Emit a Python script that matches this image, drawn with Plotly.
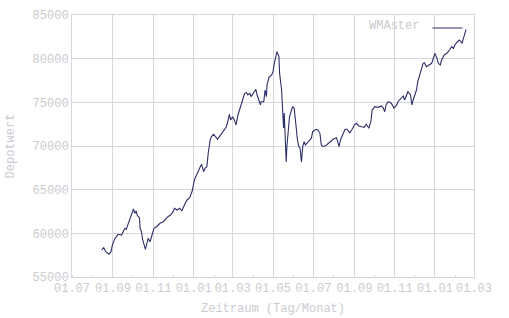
import plotly.graph_objects as go

dates = [
    "2005-08-15", "2005-08-18", "2005-08-21", "2005-08-24", "2005-08-26", "2005-08-29", "2005-08-31",
    "2005-09-04", "2005-09-09", "2005-09-14", "2005-09-19", "2005-09-21", "2005-09-25", "2005-09-29",
    "2005-10-02", "2005-10-04", "2005-10-06", "2005-10-08", "2005-10-11", "2005-10-12", "2005-10-14",
    "2005-10-16", "2005-10-18", "2005-10-20", "2005-10-23", "2005-10-24", "2005-10-27", "2005-10-30",
    "2005-11-02", "2005-11-06", "2005-11-08", "2005-11-11", "2005-11-16", "2005-11-18", "2005-11-23",
    "2005-11-27", "2005-12-01", "2005-12-03", "2005-12-07", "2005-12-11", "2005-12-14", "2005-12-18",
    "2005-12-22", "2005-12-26", "2005-12-30",
    "2006-01-02", "2006-01-05", "2006-01-07", "2006-01-11", "2006-01-13", "2006-01-16", "2006-01-18",
    "2006-01-21", "2006-01-23", "2006-01-26", "2006-01-28", "2006-01-31", "2006-02-04", "2006-02-06",
    "2006-02-09", "2006-02-11", "2006-02-15", "2006-02-19", "2006-02-21", "2006-02-24", "2006-02-26",
    "2006-03-01", "2006-03-04", "2006-03-06", "2006-03-09", "2006-03-11", "2006-03-14",
    "2006-03-16", "2006-03-19", "2006-03-22", "2006-03-24", "2006-03-27", "2006-03-29", "2006-04-01",
    "2006-04-03", "2006-04-05", "2006-04-07", "2006-04-09", "2006-04-12", "2006-04-13", "2006-04-17",
    "2006-04-19", "2006-04-21", "2006-04-22", "2006-04-25", "2006-04-29", "2006-05-01", "2006-05-03",
    "2006-05-05", "2006-05-07", "2006-05-10", "2006-05-11", "2006-05-14", "2006-05-15", "2006-05-17",
    "2006-05-18", "2006-05-21", "2006-05-22", "2006-05-24", "2006-05-26", "2006-05-29", "2006-05-31",
    "2006-06-02", "2006-06-03", "2006-06-05", "2006-06-07", "2006-06-09", "2006-06-11", "2006-06-13",
    "2006-06-15", "2006-06-17", "2006-06-19", "2006-06-21", "2006-06-25", "2006-06-28", "2006-06-30",
    "2006-07-05", "2006-07-08", "2006-07-11", "2006-07-13", "2006-07-16", "2006-07-21", "2006-07-26",
    "2006-07-31", "2006-08-05", "2006-08-09", "2006-08-11", "2006-08-15", "2006-08-18", "2006-08-21",
    "2006-08-25", "2006-08-28", "2006-09-01", "2006-09-04", "2006-09-08", "2006-09-12", "2006-09-16",
    "2006-09-19", "2006-09-23", "2006-09-26", "2006-09-28", "2006-10-02", "2006-10-07", "2006-10-12",
    "2006-10-15", "2006-10-17", "2006-10-19", "2006-10-22",
    "2006-10-27", "2006-10-31", "2006-11-04", "2006-11-06", "2006-11-10", "2006-11-14", "2006-11-16",
    "2006-11-19", "2006-11-21", "2006-11-25", "2006-11-27", "2006-11-29", "2006-12-01", "2006-12-04",
    "2006-12-06", "2006-12-09", "2006-12-11", "2006-12-14", "2006-12-16", "2006-12-19", "2006-12-23",
    "2006-12-27", "2006-12-29", "2007-01-01", "2007-01-04", "2007-01-06", "2007-01-09", "2007-01-11",
    "2007-01-15", "2007-01-19", "2007-01-23", "2007-01-26", "2007-01-29", "2007-01-31", "2007-02-04",
    "2007-02-07", "2007-02-09", "2007-02-11", "2007-02-13", "2007-02-15", "2007-02-17",
]

depotwert = [
    58100, 58350, 57900, 57700, 57600, 57900, 58650,
    59430, 59890, 59800, 60580, 60460, 61330, 62100,
    62790, 62300, 62560, 62020, 61790, 60580, 60190,
    59240, 58650, 58170, 59040, 59430, 59040, 59810,
    60580, 60760, 60950, 61150, 61330, 61530, 61900,
    62100, 62480, 62870, 62670, 62870, 62560, 63250,
    63820, 64080, 64900,
    66110, 66680, 67060, 67630, 67900, 67060, 67450,
    67630, 69160, 70690, 71070, 71340, 71000, 70770,
    71070, 71260, 71640, 72140, 72600, 73630, 72980,
    73360, 72900, 72400, 73550, 74120, 74700,
    75270, 76030, 76100, 75840, 76030, 75650, 76030,
    76220, 76490, 75840, 75270, 74700, 75070, 75070,
    76410, 75650, 76990, 77870, 78130, 78510, 79470,
    80230, 80800, 80230, 78320, 76410, 74890, 72060,
    73780, 68170, 69920, 72210, 73360, 74120, 74500,
    74320, 73360, 72210, 70690, 69920, 69740, 68170,
    69920, 70490, 70120, 70310, 70690, 70880, 71640,
    71910, 71830, 71450, 70120, 69920, 70120, 70490,
    70770, 70950, 69920, 70690, 71450, 71910, 71910,
    71520, 71830, 72400, 72600, 72290, 72210, 72140,
    72490, 72030, 72780, 74120, 74500, 74430, 74580,
    74320, 73930, 74700, 75070,
    74890, 74320, 74700, 75070, 75460, 75730, 75270,
    75840, 76220, 75840, 74700, 75270, 75840, 76410,
    77360, 78130, 78700, 79470, 79540, 79080, 79280,
    79470, 79930, 80610, 80040, 79470, 79280, 79850,
    80420, 80610, 80990, 81370, 81190, 81570, 81940,
    82140, 81940, 81760, 82330, 82900, 83340,
]

x_tickvals = ["2005-07-01", "2005-09-01", "2005-11-01", "2006-01-01", "2006-03-01", "2006-05-01",
              "2006-07-01", "2006-09-01", "2006-11-01", "2007-01-01", "2007-03-01"]
x_ticktext = ["01.07", "01.09", "01.11", "01.01", "01.03", "01.05",
              "01.07", "01.09", "01.11", "01.01", "01.03"]
y_tickvals = [55000, 60000, 65000, 70000, 75000, 80000, 85000]

series_name = "WMAster"

FONT = "Liberation Mono"
TXT = "#cbcbd0"
GRID = "#d6d6de"
LINE = "#2f2f6a"

fig = go.Figure()
fig.add_trace(go.Scatter(
    x=dates, y=depotwert, mode="lines", name=" ",
    line=dict(color=LINE, width=1.1),
    showlegend=True,
))

fig.update_layout(
    width=509, height=318,
    margin=dict(l=72, r=35, t=15, b=41, autoexpand=False),
    paper_bgcolor="white", plot_bgcolor="white",
    font=dict(family=FONT, size=12, color=TXT),
    legend=dict(
        x=1.015, y=1.006, xanchor="right", yanchor="top",
        bgcolor="rgba(0,0,0,0)",
        title=dict(text=series_name, side="left", font=dict(family=FONT, size=12, color=TXT)),
        font=dict(family=FONT, size=12, color=TXT),
        itemwidth=30,
        tracegroupgap=0,
    ),
    xaxis=dict(
        type="date",
        range=["2005-07-01", "2007-03-01"],
        tickvals=x_tickvals, ticktext=x_ticktext,
        showgrid=True, gridcolor=GRID, gridwidth=1,
        showline=True, linecolor=GRID, linewidth=1, mirror=True,
        ticks="", tickfont=dict(family=FONT, size=12, color=TXT),
        zeroline=False, automargin=True,
        minor=dict(dtick="M1", tick0="2005-07-01", ticks="inside", ticklen=2, tickcolor=GRID, showgrid=False),
        title=dict(text="Zeitraum (Tag/Monat)", font=dict(family=FONT, size=12, color=TXT), standoff=8),
    ),
    yaxis=dict(
        range=[55000, 85000],
        tickvals=y_tickvals, ticktext=[str(v) for v in y_tickvals],
        showgrid=True, gridcolor=GRID, gridwidth=1,
        showline=True, linecolor=GRID, linewidth=1, mirror=True,
        ticks="", tickfont=dict(family=FONT, size=12, color=TXT),
        zeroline=False, automargin=False,
        title=dict(text="Depotwert", font=dict(family=FONT, size=12, color=TXT)),
    ),
)

fig.write_html("out.html")
